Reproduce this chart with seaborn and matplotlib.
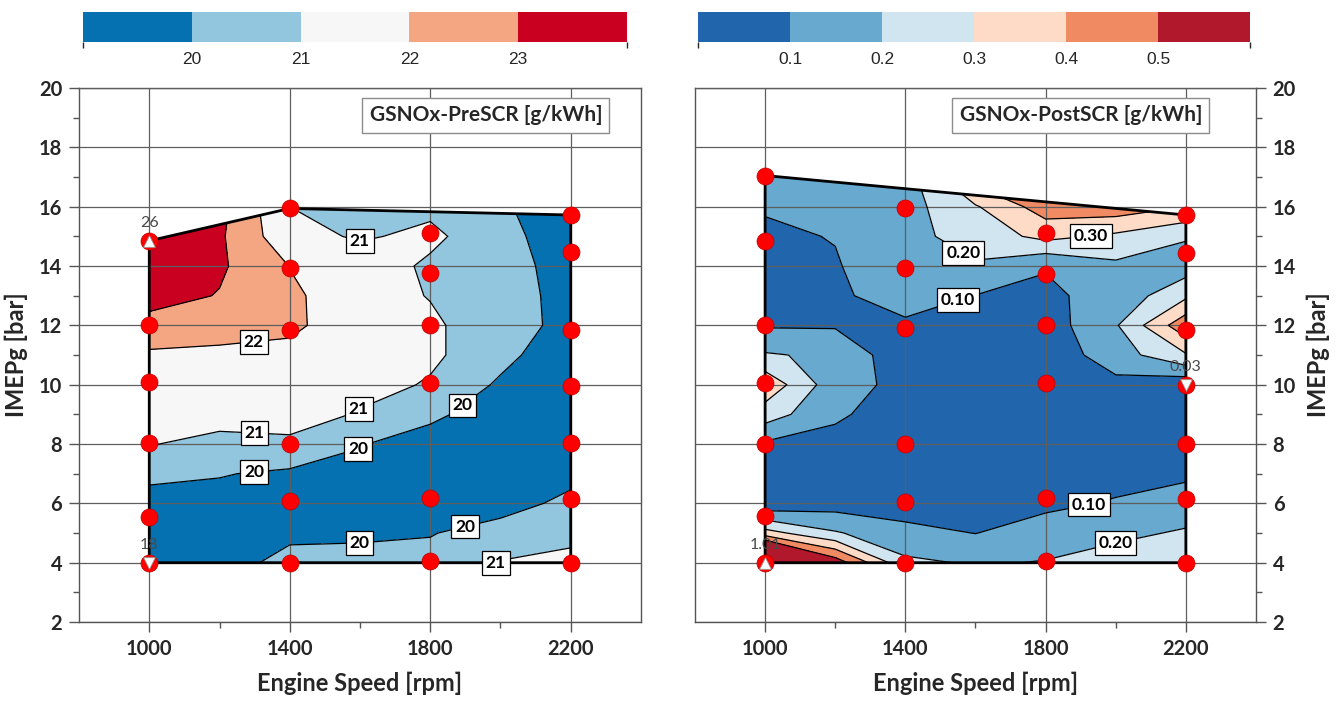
import numpy as np
import matplotlib
matplotlib.use("Agg")
import matplotlib.pyplot as plt
import seaborn as sns
from matplotlib.colors import ListedColormap, BoundaryNorm
from matplotlib.patches import Polygon
import matplotlib.cm as cm

# ---------------- data ----------------
speed_grid = [1000, 1200, 1400, 1600, 1800, 2000, 2200]
imep_grid_pre = [4, 5, 6, 7, 8, 9, 10, 11, 12, 13, 14, 15, 16]
imep_grid_post = [4, 5, 6, 7, 8, 9, 10, 11, 12, 13, 14, 15, 16, 17]

# GSNOx pre-SCR [g/kWh] (rows = IMEPg, cols = speed)
nox_pre = [
    [19.0, 19.6, 20.3, 20.3, 20.3, 21.05, 21.3],
    [19.3, 19.6, 19.8, 19.85, 19.95, 20.4, 20.7],
    [19.6, 19.7, 19.6, 19.5, 19.4, 19.6, 20.25],
    [20.25, 20.05, 19.85, 19.7, 19.3, 19.3, 19.7],
    [21.05, 20.7, 20.75, 20.05, 19.6, 19.3, 19.0],
    [21.4, 21.4, 21.55, 20.9, 20.2, 19.5, 18.9],
    [21.6, 21.6, 21.65, 21.4, 20.9, 19.85, 19.0],
    [21.85, 21.8, 21.8, 21.5, 21.2, 20.3, 19.3],
    [22.65, 22.4, 22.15, 21.55, 21.2, 20.3, 19.8],
    [23.4, 22.95, 22.15, 21.5, 20.95, 20.4, 19.7],
    [24.2, 23.15, 21.98, 21.5, 20.85, 20.5, 19.5],
    [26.0, 23.15, 21.3, 20.9, 21.2, 20.4, 19.3],
    [26.5, 23.3, 21.0, 20.5, 20.8, 20.2, 19.1],
]

# GSNOx post-SCR [g/kWh]
nox_post = [
    [1.01, 0.56, 0.22, 0.19, 0.205, 0.24, 0.27],
    [0.34, 0.21, 0.13, 0.098, 0.15, 0.18, 0.21],
    [0.02, 0.055, 0.05, 0.05, 0.076, 0.11, 0.15],
    [0.05, 0.04, 0.04, 0.04, 0.04, 0.06, 0.08],
    [0.085, 0.07, 0.05, 0.04, 0.04, 0.04, 0.04],
    [0.25, 0.115, 0.05, 0.04, 0.04, 0.04, 0.035],
    [0.373, 0.138, 0.074, 0.05, 0.05, 0.075, 0.03],
    [0.21, 0.18, 0.03, 0.04, 0.04, 0.15, 0.29],
    [0.09, 0.09, 0.085, 0.06, 0.05, 0.19, 0.47],
    [0.07, 0.085, 0.14, 0.098, 0.085, 0.13, 0.28],
    [0.07, 0.09, 0.19, 0.19, 0.105, 0.18, 0.15],
    [0.08, 0.105, 0.17, 0.24, 0.33, 0.28, 0.21],
    [0.11, 0.13, 0.16, 0.29, 0.45, 0.46, 0.40],
    [0.14, 0.15, 0.15, 0.45, 0.50, 0.50, 0.45],
]

# measured operating points
pre_pts_speed = [1000] * 6 + [1400] * 6 + [1800] * 6 + [2200] * 7
pre_pts_imep = [4.0, 5.55, 8.03, 10.09, 12.0, 14.85,
                4.0, 6.08, 8.0, 11.86, 13.95, 15.94,
                4.05, 6.17, 10.06, 12.0, 13.75, 15.11,
                4.0, 6.15, 8.03, 9.95, 11.84, 14.46, 15.72]
post_pts_speed = [1000] * 7 + [1400] * 6 + [1800] * 6 + [2200] * 7
post_pts_imep = [4.0, 5.56, 8.0, 10.05, 12.0, 14.85, 17.05,
                 4.0, 6.06, 8.0, 11.91, 13.94, 15.94,
                 4.05, 6.17, 10.05, 12.0, 13.74, 15.1,
                 4.0, 6.15, 8.0, 10.0, 11.85, 14.45, 15.72]

# extrema annotations
pre_ext_speed = [1000, 1000]
pre_ext_imep = [14.85, 4.0]
pre_ext_text = ["26", "18"]
pre_ext_marker = ["^", "v"]
post_ext_speed = [1000, 2200]
post_ext_imep = [4.0, 10.0]
post_ext_text = ["1.01", "0.03"]
post_ext_marker = ["^", "v"]

pre_levels = [20, 21, 22, 23]
post_levels = [0.1, 0.2, 0.3, 0.4, 0.5]
pre_colors = ["#0571b0", "#92c5de", "#f7f7f7", "#f4a582", "#ca0020"]
post_colors = ["#2166ac", "#67a9cf", "#d1e5f0", "#fddbc7", "#ef8a62", "#b2182b"]

pre_title = "GSNOx-PreSCR [g/kWh]"
post_title = "GSNOx-PostSCR [g/kWh]"

# contour-label anchor spots (layout)
pre_label_spots = [(1598, 14.8), (1299, 11.3), (1598, 9.16), (1901, 9.18), (1299, 8.3),
                   (1598, 7.75), (1299, 7.0), (1598, 4.7), (1901, 5.15), (1960, 4.05)]
post_label_spots = [(1929, 14.95), (1552, 14.2), (1552, 12.8), (1924, 5.9), (2000, 4.65)]

# ---------------- style ----------------
sns.set_theme(style="white")
plt.rcParams["font.family"] = ["Lato", "DejaVu Sans"]

fig = plt.figure(figsize=(13.37, 7.07), dpi=100)
ax1 = fig.add_axes([0.0591, 0.1202, 0.4203, 0.7553])
ax2 = fig.add_axes([0.5198, 0.1202, 0.4196, 0.7553])


def convex_hull(points):
    pts = sorted(set(points))
    def cross(o, a, b):
        return (a[0] - o[0]) * (b[1] - o[1]) - (a[1] - o[1]) * (b[0] - o[0])
    lower, upper = [], []
    for p in pts:
        while len(lower) >= 2 and cross(lower[-2], lower[-1], p) <= 0:
            lower.pop()
        lower.append(p)
    for p in reversed(pts):
        while len(upper) >= 2 and cross(upper[-2], upper[-1], p) <= 0:
            upper.pop()
        upper.append(p)
    return lower[:-1] + upper[:-1]


def panel(ax, Z, yvals, levels, colors, px, py, ex, ey, etxt, emk, spots, fmt, title, tx, right):
    X, Y = np.meshgrid(speed_grid, yvals)
    Z = np.array(Z, dtype=float)
    fill_levels = [Z.min() - 1] + list(levels) + [Z.max() + 1]
    cf = ax.contourf(X, Y, Z, levels=fill_levels, colors=colors, zorder=1)
    cl = ax.contour(X, Y, Z, levels=levels, colors="black", linewidths=0.9, zorder=3)
    hull = convex_hull(list(zip(px, py)))
    poly = Polygon(hull, closed=True, fill=False, ec="black", lw=2.0, zorder=4)
    ax.add_patch(poly)
    cf.set_clip_path(poly)
    cl.set_clip_path(poly)

    texts = ax.clabel(cl, levels, inline=False, fmt=fmt, manual=spots, fontsize=12.5)
    for t in texts:
        t.set_rotation(0)
        t.set_fontweight("bold")
        t.set_color("black")
        t.set_zorder(7)
        t.set_bbox(dict(boxstyle="square,pad=0.22", fc="white", ec="black", lw=0.9))

    sns.scatterplot(x=px, y=py, ax=ax, color="#ff0000", s=150, edgecolor="#c00000",
                    linewidth=0.5, zorder=5, legend=False)
    for x, y, t, m in zip(ex, ey, etxt, emk):
        ax.scatter([x], [y], marker=m, s=70, c="white", edgecolors="#999999",
                   linewidths=0.6, zorder=6)
        ax.annotate(t, (x, y), xytext=(0, 13), textcoords="offset points", ha="center",
                    va="center", fontsize=11.5, color="#4a4a4a", zorder=20,
                    annotation_clip=False)

    ax.set_xlim(800, 2400)
    ax.set_ylim(2, 20)
    ax.set_xticks([1000, 1400, 1800, 2200])
    ax.set_xticks([1200, 1600, 2000], minor=True)
    ax.set_yticks(list(range(2, 21, 2)))
    ax.set_yticks(list(range(3, 20, 2)), minor=True)
    ax.set_axisbelow(False)
    ax.grid(True, which="major", color="#5e5e5e", lw=0.9)
    for s in ax.spines.values():
        s.set_color("#555555")
        s.set_linewidth(1.0)
        s.set_visible(True)
    ax.tick_params(which="major", direction="out", length=7, width=1, color="#555555",
                   labelsize=14.5, pad=5)
    ax.tick_params(which="minor", direction="out", length=4, width=1, color="#555555")
    ax.tick_params(axis="x", which="both", bottom=True, top=False)
    for lab in ax.get_xticklabels() + ax.get_yticklabels():
        lab.set_fontweight("bold")
    ax.set_xlabel("Engine Speed [rpm]", fontsize=17, fontweight="bold", labelpad=9)
    ax.set_ylabel("IMEPg [bar]", fontsize=17, fontweight="bold", labelpad=8)
    if right:
        ax.yaxis.tick_right()
        ax.yaxis.set_label_position("right")
        ax.tick_params(axis="y", which="both", left=False, right=True,
                       labelleft=False, labelright=True)
        for lab in ax.get_yticklabels():
            lab.set_fontweight("bold")
    else:
        ax.tick_params(axis="y", which="both", left=True, right=False)

    ax.text(tx, 0.949, title, transform=ax.transAxes, ha="center", va="center",
            fontsize=15, fontweight="bold", zorder=8,
            bbox=dict(boxstyle="square,pad=0.35", fc="white", ec="#8c8c8c", lw=1.0))


panel(ax1, nox_pre, imep_grid_pre, pre_levels, pre_colors, pre_pts_speed, pre_pts_imep,
      pre_ext_speed, pre_ext_imep, pre_ext_text, pre_ext_marker, pre_label_spots,
      "%d", pre_title, 0.724, False)
panel(ax2, nox_post, imep_grid_post, post_levels, post_colors, post_pts_speed, post_pts_imep,
      post_ext_speed, post_ext_imep, post_ext_text, post_ext_marker, post_label_spots,
      "%.2f", post_title, 0.688, True)


def colorbar(rect, levels, colors, step):
    cax = fig.add_axes(rect)
    bounds = [levels[0] - step] + list(levels) + [levels[-1] + step]
    cmap = ListedColormap(colors)
    norm = BoundaryNorm(bounds, cmap.N)
    cb = fig.colorbar(cm.ScalarMappable(norm=norm, cmap=cmap), cax=cax,
                      orientation="horizontal", ticks=levels, spacing="uniform")
    cb.outline.set_visible(False)
    cb.set_ticklabels([f"{v:g}" for v in levels])
    cax.tick_params(length=0, pad=7, labelsize=12.5)
    for lab in cax.get_xticklabels():
        lab.set_family(["Liberation Sans", "DejaVu Sans"])
    return cb


colorbar([0.0621, 0.9406, 0.4069, 0.0424], pre_levels, pre_colors, 1)
colorbar([0.5221, 0.9406, 0.4129, 0.0424], post_levels, post_colors, 0.1)

fig.savefig("out.png", dpi=100)
